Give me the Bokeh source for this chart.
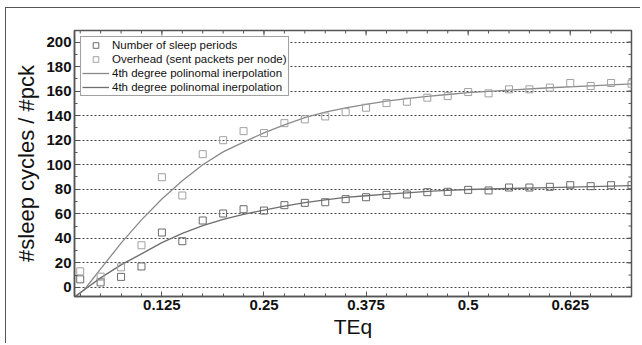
import math
from bokeh.plotting import figure
from bokeh.models import FixedTicker, Range1d, Legend, LegendItem
from bokeh.embed import file_html
from bokeh.resources import INLINE

# Measured data (TEq step 0.025)
teq = [0.025, 0.05, 0.075, 0.1, 0.125, 0.15, 0.175, 0.2, 0.225, 0.25, 0.275, 0.3,
       0.325, 0.35, 0.375, 0.4, 0.425, 0.45, 0.475, 0.5, 0.525, 0.55, 0.575, 0.6,
       0.625, 0.65, 0.675, 0.7]
sleep_periods = [6.5, 4, 8.5, 17, 44.7, 37.6, 54.5, 60.2, 63.7, 62.6, 67, 68.9,
                 69.4, 71.9, 73.5, 75.4, 75.7, 77.6, 77.9, 79.5, 79, 81.4, 81.4, 82,
                 83.3, 82.5, 83.3, 83.3]
overhead = [13, 8.7, 16.3, 34.3, 89.8, 74.9, 108.6, 120, 127.4, 125.8, 133.9, 137,
            139.4, 142.9, 146.5, 150.3, 151.4, 154.7, 156, 159.3, 158.2, 161.5, 161.5, 162.9,
            166.7, 164.2, 166.7, 166.1]

# Fitted curves
fit_x = [0.018, 0.03, 0.05, 0.075, 0.1, 0.125, 0.15, 0.175, 0.2, 0.225, 0.25, 0.275,
         0.3, 0.325, 0.35, 0.375, 0.4, 0.425, 0.45, 0.475, 0.5, 0.55, 0.6, 0.65, 0.7]
fit_sleep = [-8, -2, 7.7, 18.3, 27.3, 36.5, 44, 50.4, 55.5, 59.5, 63, 66.2,
             69, 71.4, 73.3, 74.7, 76, 77.1, 78.2, 79, 79.8, 80.6, 81.4, 82.2, 83]
fit_overhead = [-8, -2, 15, 36, 55, 72, 87, 100, 110.5, 118.5, 126, 132.5,
                138.5, 143, 146.3, 149.3, 151.8, 153.9, 155.7, 157.3, 158.8, 160.9, 162.8, 164.4, 166]

x_ticks = [0.125, 0.25, 0.375, 0.5, 0.625]
x_minor = [round(0.025 * i, 3) for i in range(1, 29)]
y_ticks = list(range(0, 201, 20))
y_minor = list(range(-10, 211, 10))

X0, X1 = 0.018, 0.7
Y0, Y1 = -7.5, 209.5

p = figure(width=635, height=336, output_backend="svg", toolbar_location=None,
           x_range=Range1d(X0, X1), y_range=Range1d(Y0, Y1),
           min_border_left=68, min_border_top=22, min_border_right=10, min_border_bottom=48,
           background_fill_color="white", border_fill_color="white")
p.styles = {"margin-left": "5px", "margin-top": "7px",
            "border-left": "1px solid #555", "border-top": "1px solid #555"}

p.outline_line_color = "#555555"
p.outline_line_width = 1.5
p.xgrid.grid_line_color = None
p.ygrid.grid_line_color = "#444444"
p.ygrid.grid_line_dash = "2 2"
p.ygrid.grid_line_width = 1
p.ygrid.ticker = FixedTicker(ticks=y_ticks)

for ax in (p.xaxis[0], p.yaxis[0]):
    ax.axis_line_color = "#555555"
    ax.axis_line_width = 1.5
    ax.major_tick_in = 5
    ax.major_tick_out = 0
    ax.minor_tick_in = 3
    ax.minor_tick_out = 0
    ax.major_tick_line_color = "#555555"
    ax.minor_tick_line_color = "#555555"
    ax.major_label_text_font = "Liberation Sans"
    ax.major_label_text_font_size = "15px"
    ax.major_label_text_font_style = "bold"
    ax.major_label_text_color = "#111111"
    ax.major_label_standoff = 3
    ax.axis_label_text_font = "Liberation Sans"
    ax.axis_label_text_font_style = "normal"
    ax.axis_label_text_color = "#111111"

p.xaxis.ticker = FixedTicker(ticks=x_ticks, minor_ticks=x_minor)
p.yaxis.ticker = FixedTicker(ticks=y_ticks, minor_ticks=y_minor)
p.xaxis.axis_label = "TEq"
p.yaxis.axis_label = "#sleep cycles / #pck"
p.xaxis.axis_label_text_font_size = "21px"
p.yaxis.axis_label_text_font_size = "22px"
p.xaxis.axis_label_standoff = 2
p.yaxis.axis_label_standoff = 4
p.xaxis.major_label_overrides = {0.125: "0.125", 0.25: "0.25", 0.375: "0.375", 0.5: "0.5", 0.625: "0.625"}

# inward ticks on top and right edges (dash markers clipped at the frame)
tick_col = "#555555"
p.scatter(x_ticks, [Y1] * len(x_ticks), marker="dash", angle=math.pi / 2, size=10,
          line_color=tick_col, line_width=1)
p.scatter(x_minor, [Y1] * len(x_minor), marker="dash", angle=math.pi / 2, size=6,
          line_color=tick_col, line_width=1)
p.scatter([X1] * len(y_ticks), y_ticks, marker="dash", size=10,
          line_color=tick_col, line_width=1)
p.scatter([X1] * len(y_minor), y_minor, marker="dash", size=6,
          line_color=tick_col, line_width=1)

r_fit_o = p.line(fit_x, fit_overhead, line_color="#8a8a8a", line_width=1.3)
r_fit_s = p.line(fit_x, fit_sleep, line_color="#6e6e6e", line_width=1.3)
r_s = p.scatter(teq, sleep_periods, marker="square", size=7, fill_color=None,
                line_color="#6a6a6a", line_width=1)
r_o = p.scatter(teq, overhead, marker="square", size=7, fill_color=None,
                line_color="#a0a0a0", line_width=1)

legend = Legend(items=[
    LegendItem(label="Number of sleep periods", renderers=[r_s]),
    LegendItem(label="Overhead (sent packets per node)", renderers=[r_o]),
    LegendItem(label="4th degree polinomal inerpolation", renderers=[r_fit_o]),
    LegendItem(label="4th degree polinomal inerpolation", renderers=[r_fit_s]),
], location="top_left")
legend.margin = 6
legend.padding = 1
legend.spacing = 0
legend.label_height = 14
legend.glyph_height = 14
legend.glyph_width = 27
legend.label_standoff = 3
legend.label_text_font = "Liberation Sans"
legend.label_text_font_size = "11.5px"
legend.label_text_color = "#111111"
legend.border_line_color = "#444444"
legend.border_line_width = 1
legend.background_fill_color = "white"
legend.background_fill_alpha = 1
p.add_layout(legend)

open("out.html", "w").write(file_html(p, INLINE))
